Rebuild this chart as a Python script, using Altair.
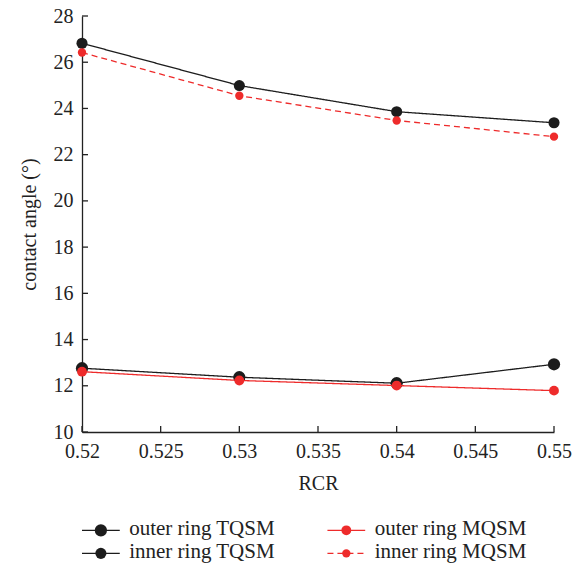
import altair as alt
import pandas as pd

# ---- data ----
rcr = [0.52, 0.53, 0.54, 0.55]
outer_tqsm = [12.76, 12.37, 12.11, 12.93]
inner_tqsm = [26.82, 24.99, 23.86, 23.38]
outer_mqsm = [12.61, 12.23, 12.01, 11.79]
inner_mqsm = [26.42, 24.55, 23.48, 22.78]

series_names = ["outer ring TQSM", "inner ring TQSM", "outer ring MQSM", "inner ring MQSM"]
series_colors = ["#1c1c1c", "#1c1c1c", "#ee2b2b", "#ee2b2b"]
series_sizes = [150, 70, 150, 70]
series_dash = [[1, 0], [1, 0], [1, 0], [6, 4]]

x_ticks = [0.52, 0.525, 0.53, 0.535, 0.54, 0.545, 0.55]
y_ticks = [10, 12, 14, 16, 18, 20, 22, 24, 26, 28]

FONT = "Liberation Serif, Times New Roman, serif"
W, H = 472, 416

rows = []
for name, vals in zip(series_names, [outer_tqsm, inner_tqsm, outer_mqsm, inner_mqsm]):
    for x, y in zip(rcr, vals):
        rows.append({"RCR": x, "angle": y, "series": name})
df = pd.DataFrame(rows)

xscale = alt.Scale(domain=[0.52, 0.55], nice=False, zero=False)
yscale = alt.Scale(domain=[10, 28], nice=False, zero=False)
color = alt.Color("series:N", scale=alt.Scale(domain=series_names, range=series_colors), legend=None)
dash = alt.StrokeDash("series:N", scale=alt.Scale(domain=series_names, range=series_dash), legend=None)
size = alt.Size("series:N", scale=alt.Scale(domain=series_names, range=series_sizes), legend=None)

xaxis = alt.Axis(values=x_ticks, format="~g", tickSize=0, labelPadding=9, grid=False,
                 title="RCR", titlePadding=12, labelFlush=False)
yaxis = alt.Axis(values=y_ticks, tickSize=0, labelPadding=9, grid=False,
                 title="contact angle (°)", titlePadding=14)

black_df = df[df.series.str.contains("TQSM")]
red_df = df[df.series.str.contains("MQSM")]

def layer_for(d):
    lines = alt.Chart(d).mark_line(strokeWidth=1.3).encode(
        x=alt.X("RCR:Q", scale=xscale, axis=xaxis),
        y=alt.Y("angle:Q", scale=yscale, axis=yaxis),
        color=color, strokeDash=dash, detail="series:N")
    pts = alt.Chart(d).mark_circle(opacity=1).encode(
        x=alt.X("RCR:Q", scale=xscale, axis=xaxis),
        y=alt.Y("angle:Q", scale=yscale, axis=yaxis),
        color=color, size=size)
    return [lines, pts]

xt = alt.Chart(pd.DataFrame({"t": x_ticks})).mark_rule(color="#222", strokeWidth=1.3).encode(
    x=alt.X("t:Q", scale=xscale, axis=xaxis), y=alt.value(H), y2=alt.value(H - 6))
yt = alt.Chart(pd.DataFrame({"t": y_ticks})).mark_rule(color="#222", strokeWidth=1.3).encode(
    y=alt.Y("t:Q", scale=yscale, axis=yaxis), x=alt.value(0), x2=alt.value(6))

main = alt.layer(xt, yt, *layer_for(black_df), *layer_for(red_df)).properties(width=W, height=H)

# ---- legend built from the same series lists ----
leg_rows = []
for i, name in enumerate(series_names):
    col = i // 2
    row = i % 2
    x0 = 0.0 if col == 0 else 0.52
    leg_rows.append({"name": name, "row": row, "x0": x0, "x1": x0 + 0.08,
                     "xm": x0 + 0.04, "xt": x0 + 0.1})
ldf = pd.DataFrame(leg_rows)
lx = alt.Scale(domain=[0, 1], nice=False)
ly = alt.Scale(domain=[-0.45, 1.55], nice=False, reverse=True)
lcolor = alt.Color("name:N", scale=alt.Scale(domain=series_names, range=series_colors), legend=None)
ldash = alt.StrokeDash("name:N", scale=alt.Scale(domain=series_names, range=[[1, 0], [1, 0], [1, 0], [5, 4]]), legend=None)
lsize = alt.Size("name:N", scale=alt.Scale(domain=series_names, range=series_sizes), legend=None)

lb = alt.Chart(ldf)
lrule = lb.mark_rule(strokeWidth=1.3).encode(
    x=alt.X("x0:Q", scale=lx, axis=None), x2="x1:Q",
    y=alt.Y("row:Q", scale=ly, axis=None), color=lcolor, strokeDash=ldash)
lpts = lb.mark_circle(opacity=1).encode(
    x=alt.X("xm:Q", scale=lx, axis=None), y=alt.Y("row:Q", scale=ly, axis=None),
    color=lcolor, size=lsize)
ltext = lb.mark_text(align="left", baseline="middle", font=FONT, fontSize=21, color="#222", dy=-1).encode(
    x=alt.X("xt:Q", scale=lx, axis=None), y=alt.Y("row:Q", scale=ly, axis=None), text="name:N")
legend = alt.layer(lrule, lpts, ltext).properties(width=W, height=46)

chart = alt.vconcat(main, legend, spacing=25).properties(
    padding={"left": 19, "top": 6, "right": 5, "bottom": 5},
    background="white"
).configure_view(stroke=None).configure_axis(
    labelFont=FONT, labelFontSize=20, labelColor="#222",
    titleFont=FONT, titleFontSize=20, titleFontWeight="normal", titleColor="#222",
    domainColor="#222", domainWidth=1.3
)

chart.save("out.html", embed_options={"renderer": "svg", "actions": False})
